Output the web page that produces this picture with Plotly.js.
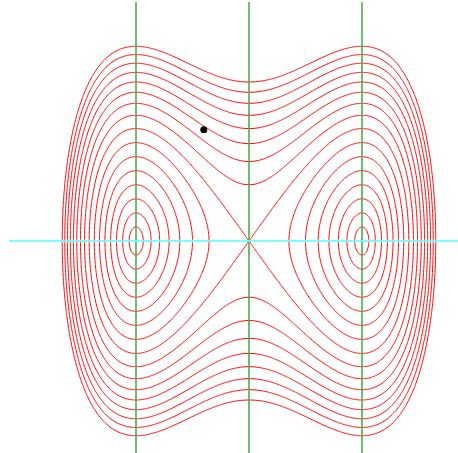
<!DOCTYPE html>
<html>
<head>
<meta charset="utf-8">
<script src="https://cdn.plot.ly/plotly-3.0.1.min.js"></script>
<style>html,body{margin:0;padding:0;background:#fff;}#plot{width:458px;height:453px;}</style>
</head>
<body>
<div id="plot"></div>
<script>
// Energy levels of H(x, y) = y^2/2 + x^4/4 - x^2/2
const levels = [-0.2461, -0.2344, -0.2148, -0.1875, -0.1523, -0.1094, -0.0586, 0.0,
                0.0625, 0.125, 0.1875, 0.25, 0.3125, 0.375, 0.4375, 0.5];
// Reference lines
const verticalLines = [-1, 0, 1];
const horizontalLines = [0];
// Marked point
const pointX = [-0.40];
const pointY = [0.70];

function hamiltonian(x, y) { return y * y / 2 + Math.pow(x, 4) / 4 - x * x / 2; }

const gx = [], gy = [];
for (let i = 0; i <= 400; i++) gx.push(-1.8 + 3.6 * (i + 0.5) / 401);
for (let j = 0; j <= 340; j++) gy.push(-1.4 + 2.8 * (j + 0.5) / 341);
const z = gy.map(y => gx.map(x => hamiltonian(x, y)));

const traces = [];
levels.forEach(L => {
  traces.push({
    type: 'contour', x: gx, y: gy, z: z,
    autocontour: false,
    contours: {start: L, end: L, size: 1, coloring: 'none', showlabels: false},
    line: {color: '#ff0000', width: 1, smoothing: 1},
    showscale: false, hoverinfo: 'skip'
  });
});

verticalLines.forEach(v => {
  traces.push({type: 'scatter', mode: 'lines', x: [v, v], y: [-1.6, 1.503],
    line: {color: 'rgba(80,170,80,0.8)', width: 2}, hoverinfo: 'skip', showlegend: false});
});
horizontalLines.forEach(h => {
  traces.push({type: 'scatter', mode: 'lines', x: [-2.124, 2.2], y: [h, h],
    line: {color: 'rgba(110,255,255,0.9)', width: 2}, hoverinfo: 'skip', showlegend: false});
});
traces.push({type: 'scatter', mode: 'markers', x: pointX, y: pointY,
  marker: {color: '#000', size: 7}, showlegend: false, hoverinfo: 'skip'});

const layout = {
  width: 458, height: 453,
  margin: {l: 0, r: 0, t: 0, b: 0},
  paper_bgcolor: '#fff', plot_bgcolor: '#fff',
  showlegend: false,
  xaxis: {range: [-249 / 113, 209 / 113], visible: false, showgrid: false, zeroline: false},
  yaxis: {range: [-212 / 159, 241 / 159], visible: false, showgrid: false, zeroline: false}
};
Plotly.newPlot('plot', traces, layout, {staticPlot: true, displayModeBar: false});
</script>
</body>
</html>
